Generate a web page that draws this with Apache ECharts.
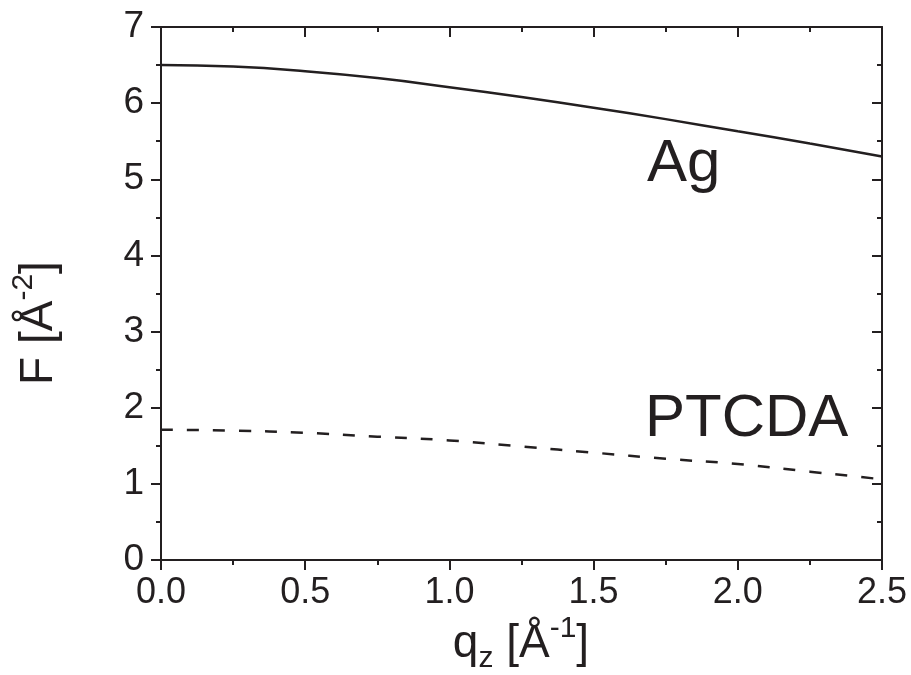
<!DOCTYPE html>
<html>
<head>
<meta charset="utf-8">
<script src="https://cdn.jsdelivr.net/npm/echarts@6/dist/echarts.min.js"></script>
<style>
  html, body { margin: 0; padding: 0; background: #fff; }
  #chart { width: 911px; height: 675px; }
</style>
</head>
<body>
<div id="chart"></div>
<script>
// q_z values in 1/Å
const qz = [0, 0.25, 0.5, 0.75, 1.0, 1.25, 1.5, 1.75, 2.0, 2.25, 2.5];
const agF = [6.50, 6.48, 6.42, 6.33, 6.21, 6.08, 5.94, 5.79, 5.63, 5.47, 5.30];
const ptcdaF = [1.71, 1.70, 1.67, 1.62, 1.57, 1.49, 1.41, 1.33, 1.26, 1.16, 1.06];
const xTicks = [0, 2.5, 0.5];   // min, max, interval
const yTicks = [0, 7, 1];

const ink = '#231f20';
const font = '"Liberation Sans", Arial, sans-serif';

const chart = echarts.init(document.getElementById('chart'));

function pairs(ys) {
  return qz.map((q, i) => [q, ys[i]]);
}

function xAxisCfg(pos) {
  const bottom = pos === 'bottom';
  return {
    type: 'value', position: pos,
    min: xTicks[0], max: xTicks[1], interval: xTicks[2],
    axisLine: { show: true, onZero: false, lineStyle: { color: ink, width: 2 } },
    axisTick: { show: true, inside: !bottom, length: 10, lineStyle: { color: ink, width: 2 } },
    minorTick: { show: true, splitNumber: 2, length: 5, lineStyle: { color: ink, width: 2 } },
    axisLabel: {
      show: bottom, margin: 15, color: ink, fontSize: 36, fontFamily: font,
      formatter: v => v.toFixed(1)
    },
    splitLine: { show: false }
  };
}

function yAxisCfg(pos) {
  const left = pos === 'left';
  return {
    type: 'value', position: pos,
    min: yTicks[0], max: yTicks[1], interval: yTicks[2],
    axisLine: { show: true, onZero: false, lineStyle: { color: ink, width: 2 } },
    axisTick: { show: true, inside: !left, length: 10, lineStyle: { color: ink, width: 2 } },
    minorTick: { show: true, splitNumber: 2, length: 5, lineStyle: { color: ink, width: 2 } },
    axisLabel: { show: left, margin: 17, color: ink, fontSize: 37, fontFamily: font },
    splitLine: { show: false }
  };
}

const option = {
  backgroundColor: '#fff',
  animation: false,
  grid: { left: 161, right: 29, top: 27, bottom: 115, containLabel: false },
  xAxis: [xAxisCfg('bottom'), xAxisCfg('top')],
  yAxis: [yAxisCfg('left'), yAxisCfg('right')],
  series: [
    {
      name: 'Ag', type: 'line', xAxisIndex: 0, yAxisIndex: 0,
      data: pairs(agF), smooth: true, showSymbol: false,
      lineStyle: { color: ink, width: 2.5 }
    },
    {
      name: 'PTCDA', type: 'line', xAxisIndex: 0, yAxisIndex: 0,
      data: pairs(ptcdaF), smooth: true, showSymbol: false,
      lineStyle: { color: ink, width: 2.5, type: [12, 14] }
    }
  ],
  graphic: [
    {
      type: 'text', x: 647, y: 164,
      style: { text: 'Ag', fill: ink, font: '60px ' + font, verticalAlign: 'middle' }
    },
    {
      type: 'text', x: 645, y: 419,
      style: { text: 'PTCDA', fill: ink, font: '60px ' + font, verticalAlign: 'middle' }
    },
    {
      type: 'text', x: 521, y: 644,
      style: {
        text: '{t|q}{sub|z}{t| [Å}{sup|-1}{t|]}',
        align: 'center', verticalAlign: 'middle',
        rich: {
          t: { fontSize: 46, fontFamily: font, fill: ink, lineHeight: 60 },
          sub: { fontSize: 30, fontFamily: font, fill: ink, lineHeight: 40, verticalAlign: 'bottom' },
          sup: { fontSize: 30, fontFamily: font, fill: ink, lineHeight: 40, verticalAlign: 'top' }
        }
      }
    },
    {
      type: 'text', x: 39, y: 323, rotation: Math.PI / 2,
      style: {
        text: '{t|F [Å}{sup|-2}{t|]}',
        align: 'center', verticalAlign: 'middle',
        rich: {
          t: { fontSize: 46, fontFamily: font, fill: ink, lineHeight: 60 },
          sup: { fontSize: 30, fontFamily: font, fill: ink, lineHeight: 40, verticalAlign: 'top' }
        }
      }
    }
  ]
};

chart.setOption(option);
</script>
</body>
</html>
